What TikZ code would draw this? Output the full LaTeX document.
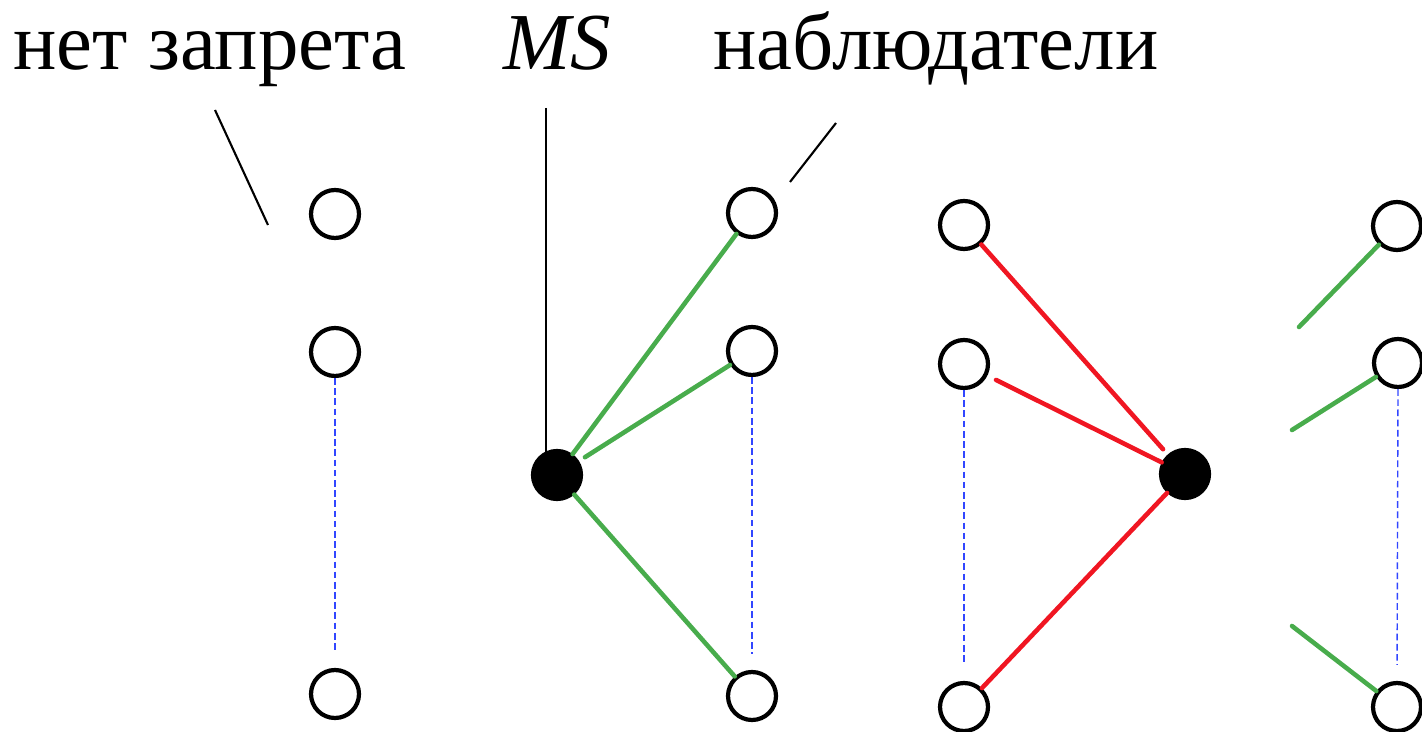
\documentclass[tikz,border=0pt]{standalone}
\usepackage{fontspec}
\setmainfont{Liberation Serif}
\definecolor{lgreen}{RGB}{72,172,76}
\definecolor{lred}{RGB}{240,22,34}
\definecolor{lblue}{RGB}{50,70,255}

\begin{document}
\begin{tikzpicture}[x=0.02cm, y=-0.02cm,
    obs/.style={circle, draw, line width=2.4pt, minimum size=0.96cm, inner sep=0pt},
    msnode/.style={obs, fill=black},
    pointer/.style={line width=1.2pt},
    seen/.style={draw=lgreen, line width=2.6pt, line cap=round},
    hidden/.style={draw=lred, line width=2.6pt, line cap=round},
    chain/.style={draw=lblue, line width=0.8pt, dash pattern=on 3.8pt off 2pt, shorten >=0.32cm},
    lbl/.style={anchor=base, font=\fontsize{46}{50}\selectfont}]
    \useasboundingbox (0,0) rectangle (1422,732);

    % Labels
    \node[lbl] (free) at (210,70) {нет запрета};
    \node[lbl] (ms) at (557,70) {\itshape MS};
    \node[lbl] (watchers) at (936,70) {наблюдатели};

    % Unconstrained observers
    \node[obs] (a1) at (335,214) {};
    \node[obs] (a2) at (335,352) {};
    \node[obs] (a3) at (335,694) {};
    \draw[chain] (a2.south) -- (a3.north);

    % MS sees the observers
    \node[msnode] (b0) at (557,475) {};
    \node[obs] (b1) at (752,213) {};
    \node[obs] (b2) at (752,351) {};
    \node[obs] (b3) at (752,696) {};
    \draw[chain] (b2.south) -- (b3.north);
    \draw[seen] (b0) -- (b1);
    \draw[seen, shorten <=4pt] (b0) -- (b2);
    \draw[seen] (b0) -- (b3);

    % Observers link to MS
    \node[obs] (c1) at (964,225) {};
    \node[obs] (c2) at (964,364) {};
    \node[obs] (c3) at (964,707) {};
    \node[msnode] (c0) at (1185,474) {};
    \draw[chain] (c2.south) -- (c3.north);
    \draw[hidden, shorten >=4pt] (c1) -- (c0);
    \draw[hidden, shorten <=5.5pt] (c2) -- (c0);
    \draw[hidden] (c0) -- (c3);

    % Next group, cut at the edge
    \node[obs] (d1) at (1397,226) {};
    \node[obs] (d2) at (1398,363) {};
    \node[obs] (d3) at (1397,707) {};
    \draw[chain] (d2.south) -- (d3.north);
    \coordinate (e1) at (1299,327);
    \coordinate (e2) at (1292,430);
    \coordinate (e3) at (1292,626);
    \draw[seen] (e1) -- (d1);
    \draw[seen] (e2) -- (d2);
    \draw[seen] (e3) -- (d3);

    % Pointers from the labels
    \coordinate (p1) at (215,110);
    \coordinate (q1) at (268,225);
    \coordinate (p2) at (546,108);
    \coordinate (q2) at (546,455);
    \coordinate (p3) at (836,123);
    \coordinate (q3) at (790,182);
    \draw[pointer] (p1) -- (q1);
    \draw[pointer] (p2) -- (q2);
    \draw[pointer] (p3) -- (q3);
\end{tikzpicture}
\end{document}
